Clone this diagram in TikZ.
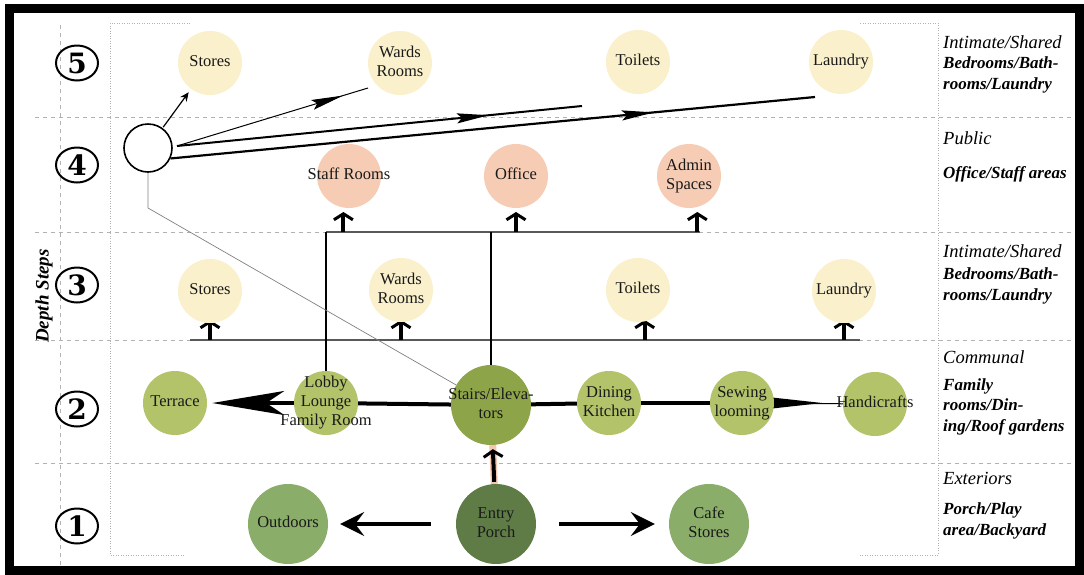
\documentclass[tikz,border=0pt]{standalone}
\usepackage{fontspec}
\setmainfont{Liberation Serif}
\newfontfamily\digitfont{DejaVu Serif}
\usetikzlibrary{arrows.meta,calc,decorations.markings,backgrounds,shapes.geometric}

\definecolor{cream}{HTML}{FAF1CC}
\definecolor{peach}{HTML}{F7CCB4}
\definecolor{olivelt}{HTML}{B2C36A}
\definecolor{olivedk}{HTML}{8EA449}
\definecolor{extgreen}{HTML}{8AAD6A}
\definecolor{porchgreen}{HTML}{5F7C46}
\definecolor{salmonline}{HTML}{F5C6AE}

% centred multi-line label that never widens its circle
\newcommand\roomtext[1]{\makebox[0pt]{\begin{tabular}{@{}c@{}}#1\end{tabular}}}

\begin{document}
\begin{tikzpicture}[x=1pt,y=-1pt,
  room/.style={circle, inner sep=0pt, minimum size=64pt, text=black!90,
    font=\fontsize{16.5}{19}\selectfont},
  privroom/.style={room, fill=cream},
  pubroom/.style={room, fill=peach},
  commroom/.style={room, fill=olivelt},
  extroom/.style={room, fill=extgreen, minimum size=80pt},
  stepmark/.style={ellipse, draw, line width=2pt, minimum width=42pt,
    minimum height=35pt, inner sep=0pt,
    font=\digitfont\bfseries\fontsize{28}{28}\selectfont},
  zoneline/.style={gray!60, dash pattern=on 4pt off 4pt, line width=0.8pt},
  bracketline/.style={gray!60, dash pattern=on 1pt off 1.5pt, line width=0.8pt},
  flow/.style={line width=4pt},
  busline/.style={line width=1.2pt, black!65},
  riser/.style={line width=2pt},
  uparr/.style={line width=4pt,
    -{Straight Barb[length=6pt,width=19pt,line width=3pt]}},
  exitarr/.style={line width=3.5pt, -{Stealth[length=24pt,width=24pt,inset=9pt]}},
  midarrow/.style={postaction={decorate}, decoration={markings,
    mark=at position #1 with {\arrow{Stealth[length=32pt,width=10pt,inset=5pt]}}}},
  zonehead/.style={anchor=base west, inner sep=0pt,
    font=\itshape\fontsize{18.5}{20}\selectfont},
  zonebody/.style={anchor=base west, inner sep=0pt,
    font=\bfseries\itshape\fontsize{17}{21}\selectfont},
]
\useasboundingbox (0,0) rectangle (1084,574);

% depth step markers
\node[stepmark] (s5) at (77,63) {5};
\node[stepmark] (s4) at (77,165) {4};
\node[stepmark] (s3) at (77,285) {3};
\node[stepmark] (s2) at (77,409) {2};
\node[stepmark] (s1) at (77,526) {1};
\node[rotate=90, font=\bfseries\itshape\fontsize{19}{19}\selectfont] (depth) at (44,296) {Depth Steps};

% step 5
\node[privroom] (st5) at (210,63) {\roomtext{Stores}};
\node[privroom] (wa5) at (400,63) {\roomtext{Wards\\Rooms}};
\node[privroom] (to5) at (638,62) {\roomtext{Toilets}};
\node[privroom] (la5) at (841,62) {\roomtext{Laundry}};

% step 4
\node[circle, draw, line width=1.6pt, fill=white, minimum size=48pt, inner sep=0pt] (hub) at (148,148) {};
\node[pubroom] (staff) at (349,176) {\roomtext{Staff Rooms}};
\node[pubroom] (office) at (516,176) {\roomtext{Office}};
\node[pubroom] (admin) at (689,176) {\roomtext{Admin\\Spaces}};

% step 3
\node[privroom] (st3) at (210,291) {\roomtext{Stores}};
\node[privroom] (wa3) at (401,290) {\roomtext{Wards\\Rooms}};
\node[privroom] (to3) at (638,290) {\roomtext{Toilets}};
\node[privroom] (la3) at (844,291) {\roomtext{Laundry}};

% step 2
\node[commroom] (terrace) at (175,403) {\roomtext{Terrace}};
\node[commroom] (lobby) at (326,403) {\roomtext{Lobby\\Lounge\\Family Room}};
\node[room, fill=olivedk, minimum size=80pt] (stairs) at (491,405) {\roomtext{Stairs/Eleva-\\tors}};
\node[commroom] (dining) at (609,403) {\roomtext{Dining\\Kitchen}};
\node[commroom] (sewing) at (742,403) {\roomtext{Sewing\\looming}};
\node[commroom] (handi) at (875,404) {\roomtext{Handicrafts}};

% step 1
\node[extroom] (outdoors) at (288,524) {\roomtext{Outdoors}};
\node[room, fill=porchgreen, minimum size=80pt] (entry) at (496,524) {\roomtext{Entry\\Porch}};
\node[extroom] (cafe) at (709,524) {\roomtext{Cafe\\Stores}};

% zone captions
\node[zonehead] (z5a) at (943,48) {Intimate/Shared};
\node[zonebody] (z5b) at (943,68) {Bedrooms/Bath-};
\node[zonebody] (z5c) at (943,89) {rooms/Laundry};
\node[zonehead] (z4a) at (943,144) {Public};
\node[zonebody] (z4b) at (943,178) {Office/Staff areas};
\node[zonehead] (z3a) at (943,257) {Intimate/Shared};
\node[zonebody] (z3b) at (943,279) {Bedrooms/Bath-};
\node[zonebody] (z3c) at (943,300) {rooms/Laundry};
\node[zonehead] (z2a) at (943,363) {Communal};
\node[zonebody] (z2b) at (943,390) {Family};
\node[zonebody] (z2c) at (943,410) {rooms/Din-};
\node[zonebody] (z2d) at (943,431) {ing/Roof gardens};
\node[zonehead] (z1a) at (943,484) {Exteriors};
\node[zonebody] (z1b) at (943,514) {Porch/Play};
\node[zonebody] (z1c) at (943,535) {area/Backyard};

\begin{pgfonlayer}{background}
  % zone separators and outline
  \foreach \yy in {117,232,340,463} \draw[zoneline] (35,\yy) -- (1073,\yy);
  \draw[zoneline] (60,25) -- (60,566);
  \draw[bracketline] (190,23) -- (110,23) -- (110,555) -- (185,555);
  \draw[bracketline] (860,23) -- (938,23) -- (938,555) -- (860,555);

  % distribution buses
  \coordinate (b4w) at (326,232);
  \coordinate (b4e) at (700,232);
  \coordinate (b3w) at (190,340);
  \coordinate (b3e) at (860,340);
  \draw[busline] (b4w) -- (b4e);
  \draw[busline] (b3w) -- (b3e);
  \draw[riser] (lobby.north) -- (lobby.north |- b4w);
  \draw[riser] (stairs.north) -- (stairs.north |- b4w);

  % risers into step 4
  \draw[uparr] (staff.-100 |- b4w) -- ++(0,-20);
  \draw[uparr] (office.south |- b4w) -- ++(0,-20);
  \draw[uparr] (admin.-75 |- b4w) -- ++(0,-20);

  % risers into step 3
  \draw[uparr] (st3.south |- b3w) -- ++(0,-20);
  \draw[uparr] (wa3.south |- b3w) -- ++(0,-20);
  \draw[uparr] (to3.-78 |- b3w) -- ++(0,-20);
  \draw[uparr] (la3.south |- b3w) -- ++(0,-20);

  % communal spine
  \draw[flow] (stairs) -- (lobby);
  \draw[flow, -{Stealth[length=72pt,width=24pt,inset=18pt]}, shorten >=5pt] (lobby) -- (terrace);
  \draw[flow] (stairs) -- (dining);
  \draw[flow] (dining) -- (sewing);
  \draw[line width=1pt] (sewing) -- (handi);
  \fill ($(sewing.east)+(-2,-5.5)$) -- ($(sewing.east)+(48,0)$) -- ($(sewing.east)+(-2,5.5)$) -- cycle;

  % exterior links
  \draw[line width=7pt, salmonline] (entry) -- (stairs);
  \draw[uparr, shorten <=2pt, shorten >=4pt] (entry) -- (stairs);
  \draw[exitarr, shorten <=25pt, shorten >=12pt] (entry) -- (outdoors);
  \draw[exitarr, shorten <=23pt, shorten >=14pt] (entry) -- (cafe);

  % links from the step-4 hub
  \coordinate (hubR) at (177,146);
  \coordinate (bEnd) at (368,88);
  \coordinate (cEnd) at (582,106);
  \coordinate (dEnd) at (815,97);
  \coordinate (bend) at (148,208);
  \draw[line width=1.2pt, -{Stealth[length=9pt,width=8pt]}, shorten <=1pt, shorten >=4pt] (hub) -- (st5);
  \draw[line width=1pt, midarrow=0.87] (hubR) -- (bEnd);
  \draw[line width=2pt, midarrow=0.77] (hubR) -- (cEnd);
  \draw[line width=2.2pt, midarrow=0.75] (hub.-25) -- (dEnd);
  \draw[gray, line width=0.7pt] (hub.south) -- (bend) -- (stairs);
\end{pgfonlayer}

% outer frame
\draw[line width=9pt] (9,8.5) rectangle (1079.5,570);
\end{tikzpicture}
\end{document}
